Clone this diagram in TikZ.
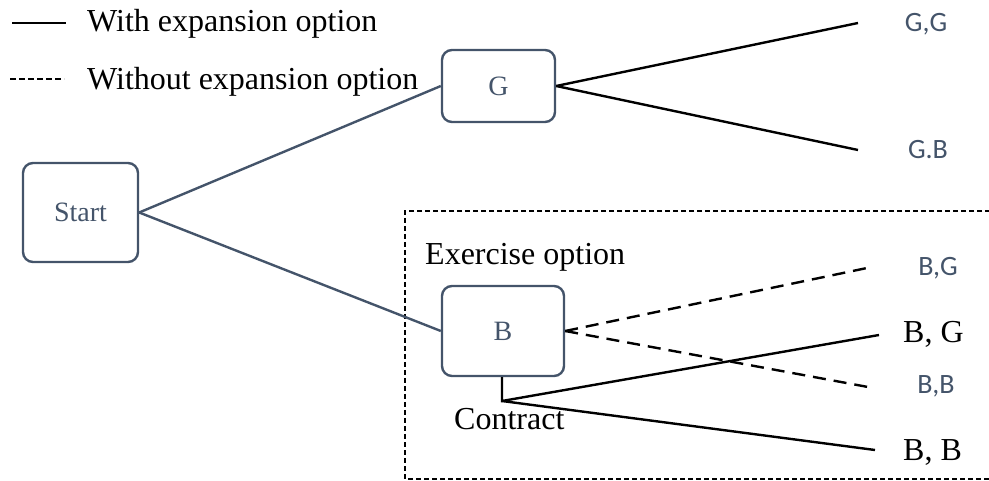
\documentclass[tikz,border=0pt]{standalone}
\usepackage{fontspec}
\setmainfont{Liberation Serif}
\newfontfamily\labelfont{Carlito}
\definecolor{slate}{HTML}{44546A}
\begin{document}
\begin{tikzpicture}[x=1pt,y=-1pt,
  state/.style={draw=slate,line width=2.4pt,rounded corners=10pt,text=slate,
    font=\fontsize{28}{30}\selectfont,inner sep=0pt},
  branch/.style={line width=2.4pt,black},
  optline/.style={branch,dash pattern=on 13pt off 8pt},
  link/.style={line width=2.4pt,slate},
  outcome/.style={text=slate,font=\labelfont\fontsize{28}{30}\selectfont,inner sep=0pt},
  serif/.style={font=\fontsize{32}{34}\selectfont,inner sep=0pt,anchor=base west}]
\useasboundingbox (0,0) rectangle (989,481);

% legend
\coordinate (l1a) at (12,23); \coordinate (l1b) at (66,23);
\coordinate (l2a) at (10,79); \coordinate (l2b) at (64,79);
\draw[line width=2pt] (l1a) -- (l1b);
\draw[line width=1.6pt,dash pattern=on 6pt off 3pt] (l2a) -- (l2b);
\node[serif] (lt1) at (87,32) {With expansion option};
\node[serif] (lt2) at (87,90) {Without expansion option};

% dashed frame around the exercise decision
\draw[line width=1.3pt,dash pattern=on 5pt off 3pt]
  (990,211) -- (405,211) -- (405,479) -- (990,479);
\node[serif] (ex) at (425,265) {Exercise option};
\node[serif] (ct) at (454,429) {Contract};

% decision boxes
\node[state,minimum width=115pt,minimum height=99pt] (start) at (80.5,212.5) {Start};
\node[state,minimum width=113pt,minimum height=72pt] (g) at (498.5,86) {G};
\node[state,minimum width=122pt,minimum height=90pt] (b) at (503,331) {B};

\draw[link] (start.east) -- (g.west);
\draw[link] (start.east) -- (b.west);

% outcomes
\node[outcome] (gg) at (926,24) {G,G};
\node[outcome] (gb) at (928,150) {G.B};
\node[outcome] (bg1) at (938,268) {B,G};
\node[outcome] (bb1) at (936,386) {B,B};
\node[serif] (bg2) at (903,342) {B, G};
\node[serif] (bb2) at (903,460) {B, B};

\coordinate (egg) at (858,23);
\coordinate (egb) at (858,150);
\coordinate (ebg1) at (867,268);
\coordinate (ebb1) at (868,387);
\coordinate (ebg2) at (879,335);
\coordinate (ebb2) at (875,450);
\coordinate (knee) at (502,401);

\draw[branch] (g.east) -- (egg);
\draw[branch] (g.east) -- (egb);
\draw[optline] (b.east) -- (ebg1);
\draw[optline] (b.east) -- (ebb1);
\draw[branch] (b.south -| knee) -- (knee) -- (ebg2);
\draw[branch] (knee) -- (ebb2);
\end{tikzpicture}
\end{document}
